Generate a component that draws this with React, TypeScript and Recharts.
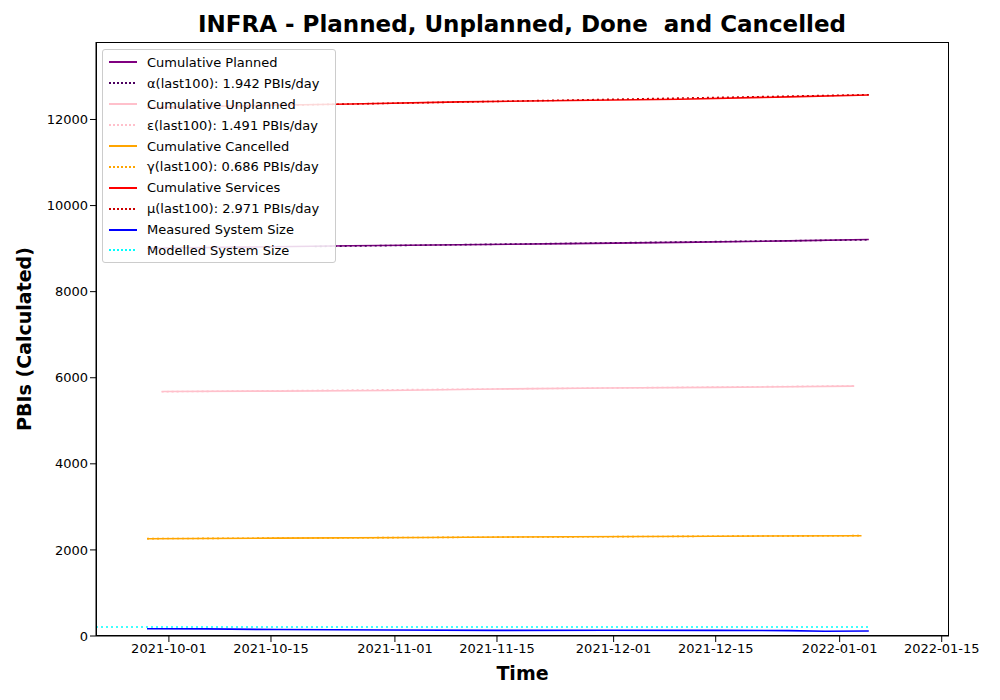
import React from "react";
import { LineChart, Line, XAxis, YAxis } from "recharts";

// x = days since 2021-09-21
const START = Date.UTC(2021, 8, 21);
const DAY = 86400000;
const dateTicks = [10, 24, 41, 55, 71, 85, 102, 116];

const plannedDays = [7, 20, 35, 50, 65, 80, 95, 106];
const plannedVals = [9010, 9035, 9065, 9090, 9115, 9145, 9180, 9210];
const plannedFit = [[30, 9050], [106, 9205]];

const unplannedDays = [9, 25, 40, 55, 70, 85, 104];
const unplannedVals = [5680, 5690, 5705, 5740, 5760, 5775, 5805];
const unplannedFit = [[9, 5675], [104, 5810]];

const cancelledDays = [7, 25, 45, 65, 85, 105];
const cancelledVals = [2260, 2275, 2290, 2305, 2318, 2330];
const cancelledFit = [[7, 2262], [105, 2332]];

const servicesDays = [7, 20, 35, 50, 65, 80, 95, 106];
const servicesVals = [12280, 12320, 12360, 12410, 12440, 12470, 12525, 12570];
const servicesFit = [[7, 12275], [106, 12575]];

const measuredDays = [7, 15, 25, 40, 55, 70, 85, 95, 100, 106];
const measuredVals = [170, 165, 150, 140, 130, 135, 130, 125, 110, 115];
const modelledDays = [0, 30, 60, 90, 106];
const modelledVals = [210, 210, 210, 210, 210];

const toPts = (d: number[], v: number[]) => d.map((x, i) => ({ x, y: v[i] }));
const fitPts = (f: number[][]) => f.map(([x, y]) => ({ x, y }));

const fmt = (d: number) => {
  const t = new Date(START + d * DAY);
  const m = String(t.getUTCMonth() + 1).padStart(2, "0");
  const dd = String(t.getUTCDate()).padStart(2, "0");
  return `${t.getUTCFullYear()}-${m}-${dd}`;
};

const legendItems = [
  { label: "Cumulative Planned", color: "purple", dash: false },
  { label: "α(last100): 1.942 PBIs/day", color: "#4b0060", dash: true },
  { label: "Cumulative Unplanned", color: "pink", dash: false },
  { label: "ε(last100): 1.491 PBIs/day", color: "pink", dash: true },
  { label: "Cumulative Cancelled", color: "orange", dash: false },
  { label: "γ(last100): 0.686 PBIs/day", color: "orange", dash: true },
  { label: "Cumulative Services", color: "red", dash: false },
  { label: "μ(last100): 2.971 PBIs/day", color: "#cc0000", dash: true },
  { label: "Measured System Size", color: "blue", dash: false },
  { label: "Modelled System Size", color: "cyan", dash: true },
];

const lineProps = { dataKey: "y", dot: false, isAnimationActive: false, strokeWidth: 1.6, type: "linear" as const };

export default function App() {
  return (
    <div style={{ position: "absolute", left: 0, top: 0, width: 1000, height: 700, background: "#fff", fontFamily: "DejaVu Sans" }}>
      <div style={{ position: "absolute", top: 11, width: 1044, textAlign: "center", fontSize: 23, fontWeight: "bold" }}>
        INFRA - Planned, Unplanned, Done&nbsp; and Cancelled
      </div>
      <div style={{ position: "absolute", top: 662, left: 96, width: 853, textAlign: "center", fontSize: 19, fontWeight: "bold" }}>Time</div>
      <div style={{ position: "absolute", left: 24, top: 339, transform: "translate(-50%,-50%) rotate(-90deg)", fontSize: 19, fontWeight: "bold", whiteSpace: "nowrap" }}>
        PBIs (Calculated)
      </div>
      <LineChart width={1000} height={700} margin={{ top: 42, right: 51, bottom: 34, left: 36 }}>
        <XAxis type="number" dataKey="x" domain={[0, 117]} ticks={dateTicks} tickFormatter={fmt} allowDuplicatedCategory={false}
          stroke="#000" tick={{ fill: "#000", fontSize: 13 }} height={30} />
        <YAxis type="number" domain={[0, 13800]} ticks={[0, 2000, 4000, 6000, 8000, 10000, 12000]} stroke="#000"
          tick={{ fill: "#000", fontSize: 13 }} width={60} />
        <Line data={toPts(modelledDays, modelledVals)} stroke="cyan" strokeDasharray="2 3" {...lineProps} />
        <Line data={toPts(measuredDays, measuredVals)} stroke="blue" {...lineProps} />
        <Line data={toPts(cancelledDays, cancelledVals)} stroke="orange" {...lineProps} />
        <Line data={fitPts(cancelledFit)} stroke="orange" strokeDasharray="2 3" {...lineProps} />
        <Line data={toPts(unplannedDays, unplannedVals)} stroke="pink" {...lineProps} />
        <Line data={fitPts(unplannedFit)} stroke="pink" strokeDasharray="2 3" {...lineProps} />
        <Line data={toPts(plannedDays, plannedVals)} stroke="purple" {...lineProps} />
        <Line data={fitPts(plannedFit)} stroke="#4b0060" strokeDasharray="2 3" {...lineProps} />
        <Line data={toPts(servicesDays, servicesVals)} stroke="red" {...lineProps} />
        <Line data={fitPts(servicesFit)} stroke="#cc0000" strokeDasharray="2 3" {...lineProps} />
      </LineChart>
      <div style={{ position: "absolute", left: 96, top: 42, width: 853, height: 594, border: "1px solid #000", boxSizing: "border-box", pointerEvents: "none" }} />
      <div style={{ position: "absolute", left: 102, top: 49, width: 234, height: 214, boxSizing: "border-box", background: "rgba(255,255,255,0.85)", border: "1px solid #ccc", borderRadius: 3, padding: "2px 6px" }}>
        {legendItems.map((it) => (
          <div key={it.label} style={{ display: "flex", alignItems: "center", height: 20.9, fontSize: 13, whiteSpace: "nowrap" }}>
            <svg width={30} height={10} style={{ marginRight: 8 }}>
              <line x1={0} y1={5} x2={28} y2={5} stroke={it.color} strokeWidth={2} strokeDasharray={it.dash ? "2 2" : undefined} />
            </svg>
            {it.label}
          </div>
        ))}
      </div>
    </div>
  );
}
